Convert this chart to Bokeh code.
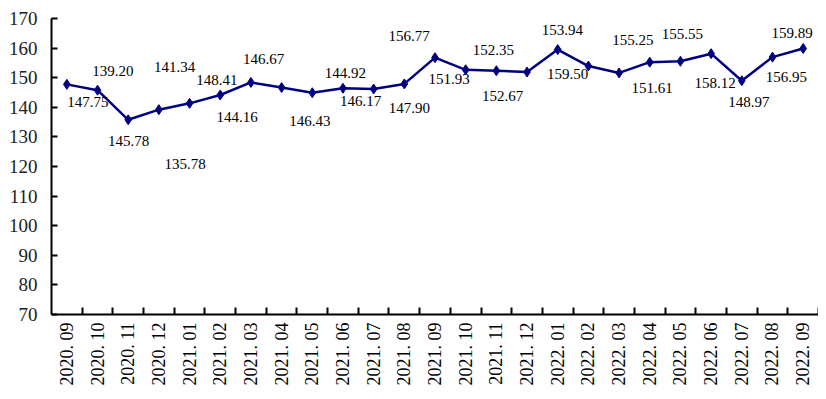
from bokeh.plotting import figure
from bokeh.models import ColumnDataSource, FixedTicker, LabelSet, Range1d
from bokeh.embed import file_html
from bokeh.resources import INLINE

months = ["2020. 09", "2020. 10", "2020. 11", "2020. 12", "2021. 01", "2021. 02",
          "2021. 03", "2021. 04", "2021. 05", "2021. 06", "2021. 07", "2021. 08",
          "2021. 09", "2021. 10", "2021. 11", "2021. 12", "2022. 01", "2022. 02",
          "2022. 03", "2022. 04", "2022. 05", "2022. 06", "2022. 07", "2022. 08",
          "2022. 09"]
values = [147.75, 145.78, 135.78, 139.20, 141.34, 144.16, 148.41, 146.67, 144.92,
          146.43, 146.17, 147.90, 156.77, 152.67, 152.35, 151.93, 159.50, 153.94,
          151.61, 155.25, 155.55, 158.12, 148.97, 156.95, 159.89]
y_ticks = [70, 80, 90, 100, 110, 120, 130, 140, 150, 160, 170]

# label placement offsets (pixels) relative to each point
label_dx = [21, 31, 57, -46, -15, 17, -34, -18, 33, -33, -13, 5, -26, 37, -3, -78,
            10, -26, 33, -17, 2, 4, 7, 14, -11]
label_dy = [18, 51, 44, -39, -36, 22, -2, -29, -20, 33, 12, 24, -22, 26, -21, 7,
            24, -36, 15, -22, -27, 29, 21, 20, -15]

idx = list(range(len(months)))
src = ColumnDataSource(dict(
    x=idx, y=values, txt=["%.2f" % v for v in values],
    dx=label_dx, dy=[-d for d in label_dy]))

FONT = "Liberation Serif"
COLOR = "#000080"

p = figure(width=818, height=393, output_backend="svg", toolbar_location=None,
           x_range=Range1d(-0.5, len(months) - 0.5), y_range=Range1d(70, 170),
           min_border_left=51, min_border_right=0, min_border_top=18,
           min_border_bottom=79)
p.outline_line_color = None
p.grid.visible = False

p.line("x", "y", source=src, line_color=COLOR, line_width=2.5)
p.scatter("x", "y", source=src, marker="diamond", size=10,
          fill_color=COLOR, line_color=COLOR)

labels = LabelSet(x="x", y="y", text="txt", source=src, x_offset="dx", y_offset="dy",
                  text_align="center", text_baseline="middle",
                  text_font=FONT, text_font_size="15px", text_color="black")
p.add_layout(labels)

xa = p.xaxis[0]
xa.ticker = FixedTicker(ticks=idx, minor_ticks=[i + 0.5 for i in idx])
xa.major_label_overrides = {i: m for i, m in zip(idx, months)}
xa.major_label_orientation = 3.14159265 / 2
xa.major_tick_in = 0
xa.major_tick_out = 0
xa.minor_tick_in = 7
xa.minor_tick_out = 0
xa.minor_tick_line_color = "black"
xa.minor_tick_line_width = 2
xa.axis_line_width = 2
xa.axis_line_color = "black"
xa.major_label_standoff = 8
xa.major_label_text_font = FONT
xa.major_label_text_font_size = "18px"
xa.major_label_text_color = "black"

ya = p.yaxis[0]
ya.ticker = FixedTicker(ticks=y_ticks)
ya.major_tick_in = 6
ya.major_tick_out = 0
ya.minor_tick_in = 0
ya.minor_tick_out = 0
ya.major_tick_line_width = 2
ya.major_tick_line_color = "black"
ya.axis_line_width = 2
ya.axis_line_color = "black"
ya.major_label_standoff = 14
ya.major_label_text_font = FONT
ya.major_label_text_font_size = "19px"
ya.major_label_text_color = "#222222"

open("out.html", "w").write(file_html(p, INLINE))
